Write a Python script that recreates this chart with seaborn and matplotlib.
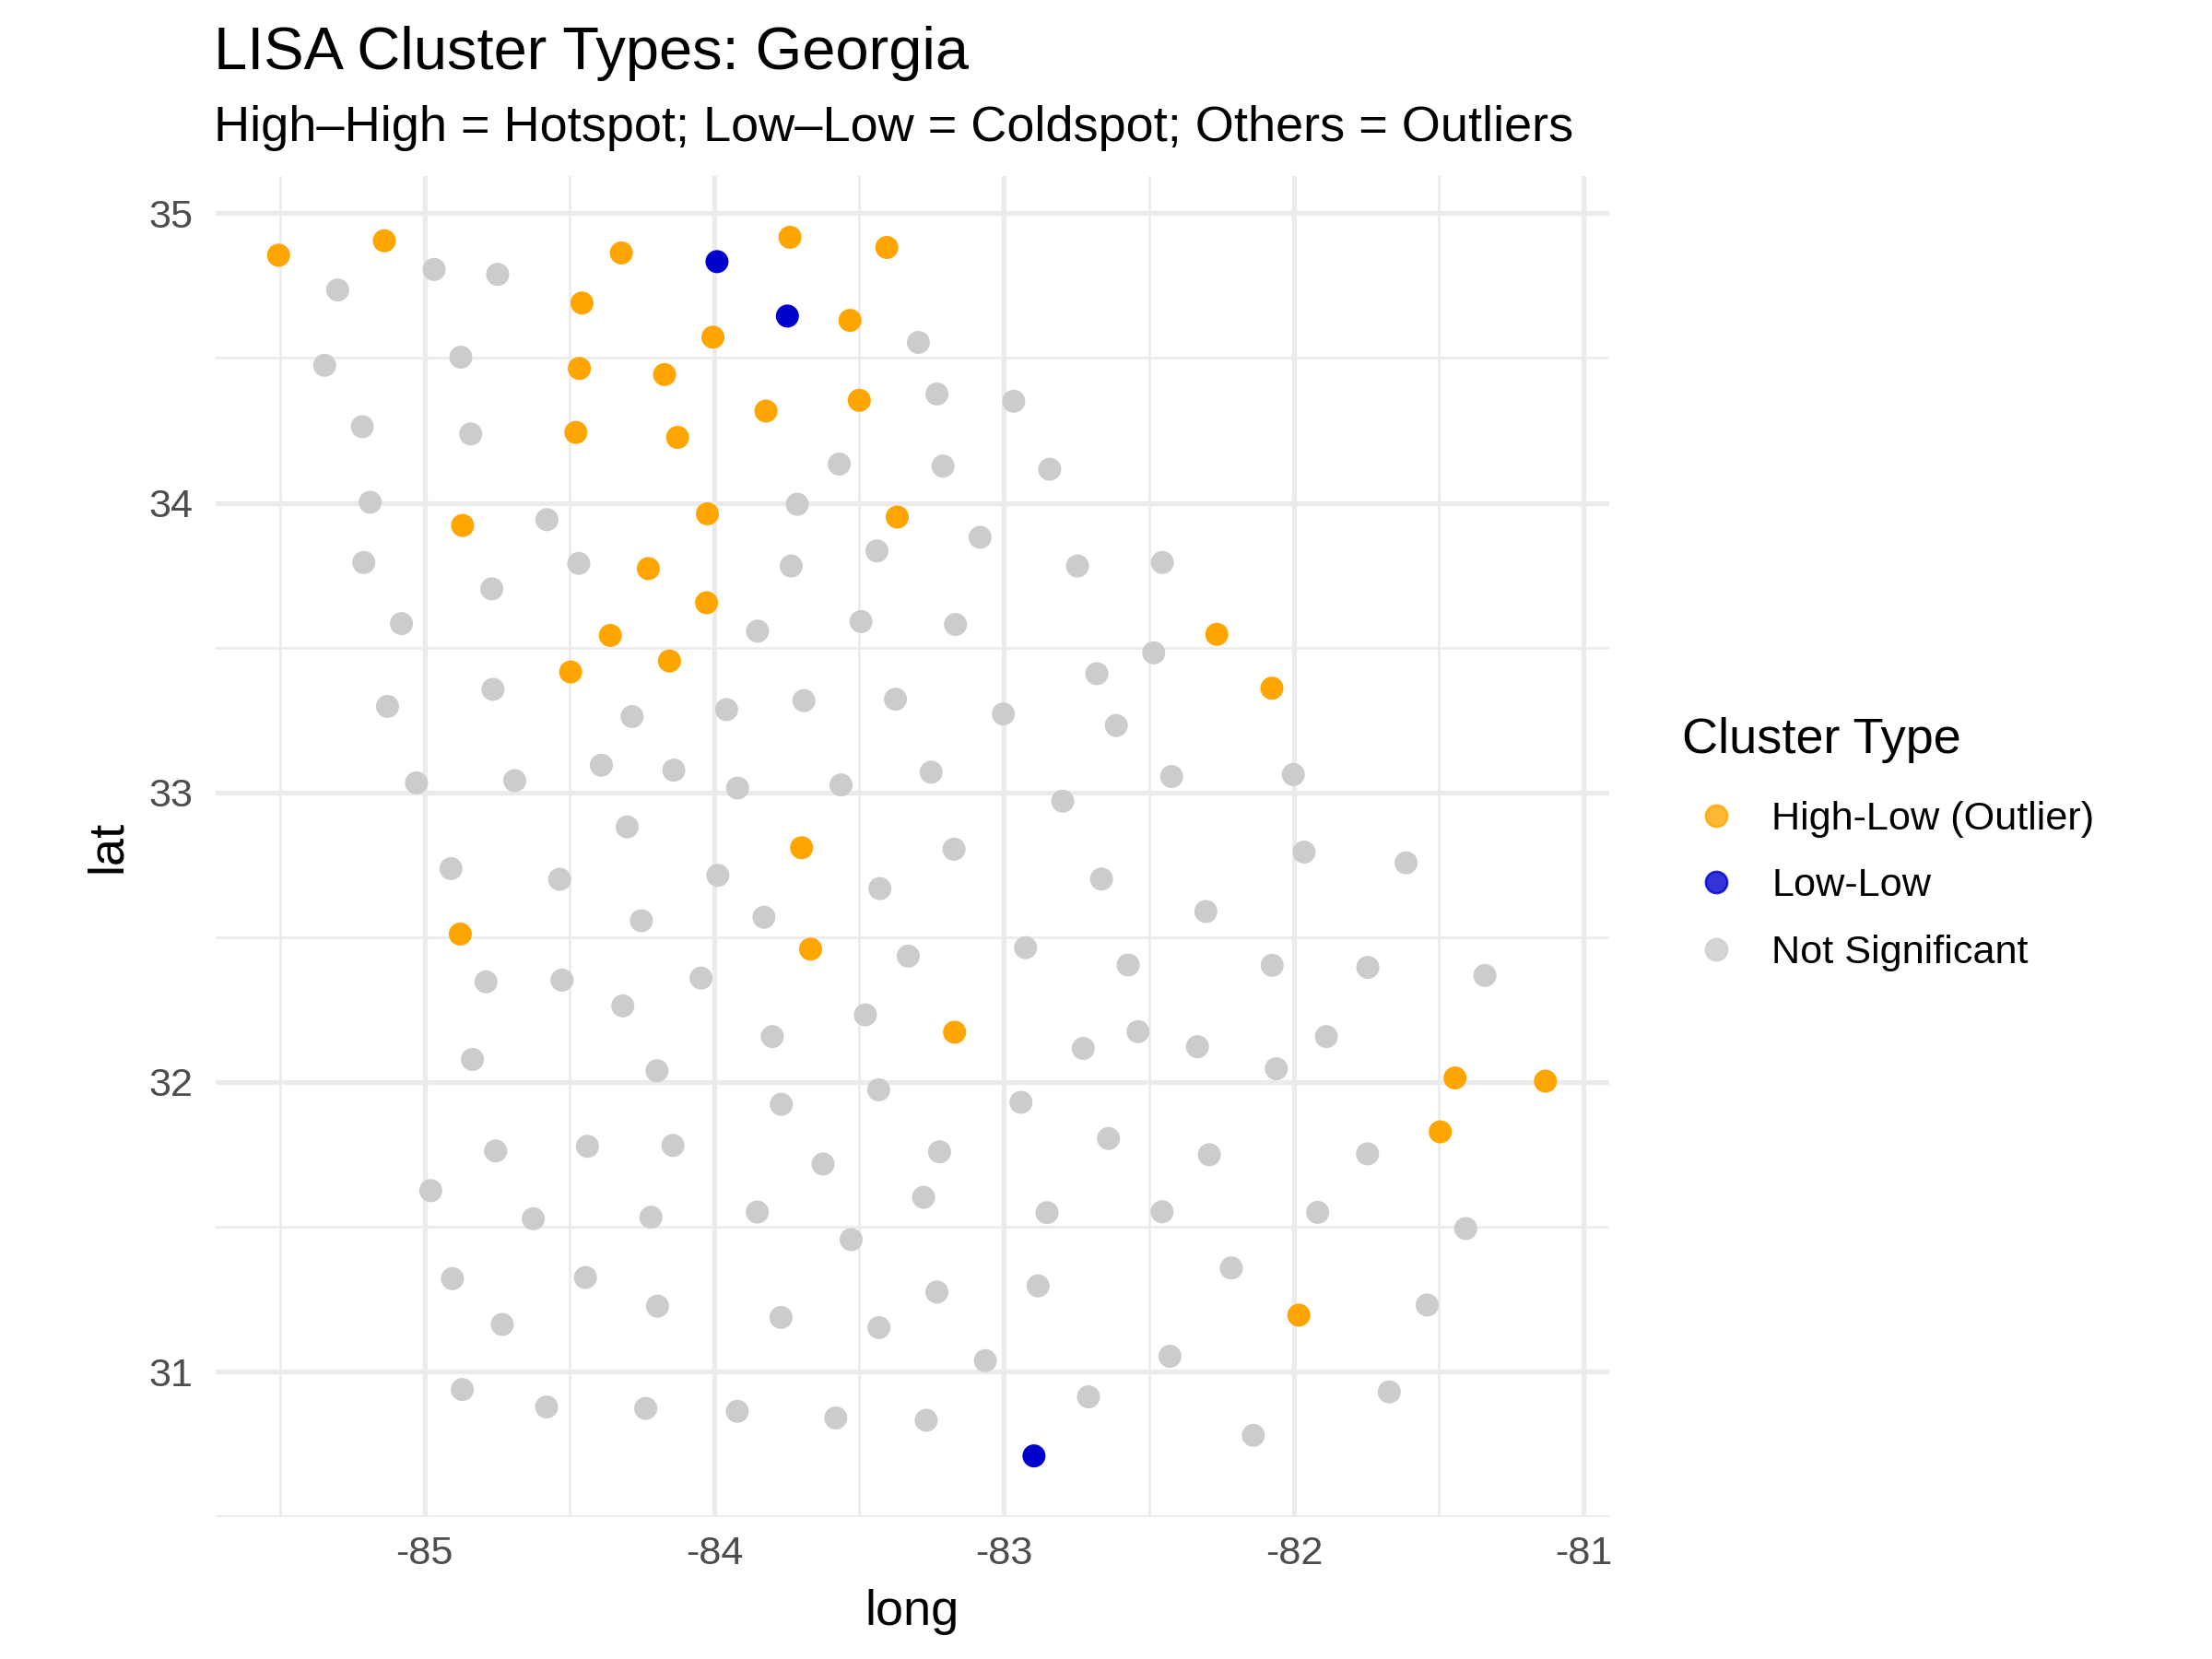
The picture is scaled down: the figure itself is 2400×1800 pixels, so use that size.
"""LISA cluster types for Georgia counties, drawn at county centroids."""

import matplotlib

matplotlib.use("Agg")
import matplotlib.pyplot as plt
import pandas as pd
import seaborn as sns
from matplotlib.lines import Line2D
from matplotlib.ticker import MultipleLocator

# centroids, grouped by LISA cluster
high_low_long = [
    -85.504, -85.139, -84.321, -83.739, -83.405, -84.457, -84.005, -83.532,
    -84.466, -84.172, -83.822, -83.500, -84.478, -84.127, -84.024, -83.369,
    -84.869, -84.228, -84.027, -84.359, -84.155, -84.496, -82.266, -82.076,
    -83.699, -84.877, -83.668, -83.171, -81.444, -81.132, -81.495, -81.983,
]
high_low_lat = [
    34.855, 34.905, 34.863, 34.917, 34.882, 34.690, 34.572, 34.630,
    34.464, 34.443, 34.317, 34.354, 34.243, 34.226, 33.962, 33.951,
    33.922, 33.773, 33.655, 33.542, 33.454, 33.416, 33.546, 33.360,
    32.809, 32.511, 32.459, 32.172, 32.014, 32.003, 31.828, 31.195,
]

low_low_long = [-83.991, -83.748, -82.897]
low_low_lat = [34.833, 34.645, 30.709]

not_sig_long = [
    -84.967, -84.748, -85.300, -85.345, -84.875, -85.215, -84.841, -85.188,
    -84.578, -85.210, -84.468, -84.768, -85.080, -85.128, -84.764, -84.284,
    -85.028, -84.689, -84.390, -84.140, -84.301, -83.296, -83.232, -82.967,
    -83.569, -83.211, -82.843, -83.714, -83.439, -83.083, -83.735, -82.747,
    -82.454, -83.851, -83.494, -83.168, -82.484, -82.680, -83.958, -83.691,
    -83.375, -83.003, -82.613, -83.920, -83.563, -83.252, -82.798, -82.422,
    -83.173, -82.002, -81.965, -81.613, -84.909, -84.534, -84.252, -84.788,
    -84.526, -84.316, -84.046, -84.835, -84.198, -84.755, -84.438, -84.143,
    -84.979, -84.625, -84.219, -84.904, -84.445, -84.732, -84.196, -84.870,
    -84.579, -84.237, -83.988, -83.429, -82.664, -83.829, -83.331, -82.926,
    -82.572, -83.479, -83.800, -82.727, -82.538, -83.433, -83.769, -82.942,
    -82.640, -83.625, -83.223, -83.852, -83.278, -82.852, -82.455, -83.528,
    -83.232, -82.883, -83.770, -83.432, -83.065, -82.428, -82.709, -83.921,
    -83.581, -83.269, -82.304, -82.075, -81.745, -81.341, -82.333, -81.888,
    -82.061, -82.292, -81.746, -81.918, -81.407, -82.216, -81.540, -81.671,
    -82.140,
]
not_sig_lat = [
    34.806, 34.789, 34.735, 34.475, 34.503, 34.263, 34.238, 34.002,
    33.942, 33.794, 33.791, 33.703, 33.583, 33.297, 33.356, 33.262,
    33.033, 33.041, 33.094, 33.077, 32.881, 34.554, 34.376, 34.351,
    34.134, 34.127, 34.116, 33.995, 33.834, 33.881, 33.782, 33.782,
    33.794, 33.557, 33.590, 33.580, 33.482, 33.410, 33.286, 33.317,
    33.322, 33.271, 33.231, 33.015, 33.026, 33.070, 32.970, 33.055,
    32.804, 33.062, 32.794, 32.757, 32.737, 32.700, 32.557, 32.346,
    32.352, 32.263, 32.359, 32.078, 32.039, 31.762, 31.778, 31.781,
    31.625, 31.528, 31.533, 31.321, 31.325, 31.163, 31.226, 30.938,
    30.878, 30.873, 32.714, 32.668, 32.701, 32.569, 32.435, 32.464,
    32.404, 32.232, 32.157, 32.116, 32.174, 31.973, 31.923, 31.930,
    31.805, 31.717, 31.759, 31.551, 31.602, 31.549, 31.552, 31.456,
    31.275, 31.296, 31.187, 31.152, 31.038, 31.053, 30.913, 30.863,
    30.840, 30.832, 32.589, 32.403, 32.396, 32.368, 32.122, 32.157,
    32.046, 31.749, 31.752, 31.550, 31.494, 31.358, 31.230, 30.930,
    30.780,
]

cluster_labels = ["High-Low (Outlier)", "Low-Low", "Not Significant"]
cluster_colors = ["#FFA500", "#0000CD", "#CCCCCC"]


def build_frame() -> pd.DataFrame:
    """Stack the three cluster groups into one long table."""
    parts = [
        pd.DataFrame({"long": high_low_long, "lat": high_low_lat, "cluster": cluster_labels[0]}),
        pd.DataFrame({"long": low_low_long, "lat": low_low_lat, "cluster": cluster_labels[1]}),
        pd.DataFrame({"long": not_sig_long, "lat": not_sig_lat, "cluster": cluster_labels[2]}),
    ]
    return pd.concat(parts, ignore_index=True)


def padded(values, frac=0.05):
    lo, hi = min(values), max(values)
    pad = (hi - lo) * frac
    return lo - pad, hi + pad


def main() -> None:
    data = build_frame()

    sns.set_theme(style="white")
    plt.rcParams["font.family"] = ["Liberation Sans", "DejaVu Sans"]
    plt.rcParams["axes.unicode_minus"] = False
    plt.rcParams["text.color"] = "black"
    plt.rcParams["axes.labelcolor"] = "black"

    fig = plt.figure(figsize=(8, 6), dpi=300)
    ax = fig.add_axes([0.0973, 0.0857, 0.630, 0.808])

    # not significant first so the coloured clusters sit on top
    order = [cluster_labels[2], cluster_labels[0], cluster_labels[1]]
    palette = dict(zip(cluster_labels, cluster_colors))
    sns.scatterplot(
        data=data,
        x="long",
        y="lat",
        hue="cluster",
        hue_order=order,
        palette=palette,
        s=36,
        linewidth=0,
        alpha=1.0,
        legend=False,
        ax=ax,
        zorder=3,
    )

    ax.set_xlim(*padded(data["long"]))
    ax.set_ylim(*padded(data["lat"]))
    ax.xaxis.set_major_locator(MultipleLocator(1))
    ax.yaxis.set_major_locator(MultipleLocator(1))
    ax.xaxis.set_minor_locator(MultipleLocator(0.5))
    ax.yaxis.set_minor_locator(MultipleLocator(0.5))
    ax.grid(which="major", color="#EBEBEB", linewidth=1.26)
    ax.grid(which="minor", color="#EBEBEB", linewidth=0.63)
    ax.set_axisbelow(True)
    for spine in ax.spines.values():
        spine.set_visible(False)

    ax.tick_params(which="both", length=0, labelsize=10.4, labelcolor="#4D4D4D")
    ax.tick_params(axis="x", pad=4.8)
    ax.tick_params(axis="y", pad=5.8)

    ax.set_xlabel("long", fontsize=13, color="black", va="baseline")
    ax.xaxis.set_label_coords(0.5, -0.0806)
    ax.set_ylabel("lat", fontsize=13, color="black", va="center")
    ax.yaxis.set_label_coords(-0.0771, 0.5)

    fig.text(0.0968, 1 - 75 / 1800, "LISA Cluster Types: Georgia",
             fontsize=15.6, va="baseline", ha="left", color="black")
    fig.text(0.0968, 1 - 153 / 1800,
             "High\u2013High = Hotspot; Low\u2013Low = Coldspot; Others = Outliers",
             fontsize=13, va="baseline", ha="left", color="black")

    # legend: title placed on its own so the gap to the keys matches
    fig.text(0.7605, 1 - 817 / 1800, "Cluster Type", fontsize=13,
             va="baseline", ha="left", color="black")
    handles = [
        Line2D([], [], marker="o", linestyle="", markersize=5.6,
               markerfacecolor=c, markeredgecolor=c, markeredgewidth=0.6, alpha=0.8)
        for c in cluster_colors
    ]
    fig.legend(
        handles,
        cluster_labels,
        loc="center left",
        bbox_to_anchor=(0.7613, 1 - 961.2 / 1800),
        bbox_transform=fig.transFigure,
        frameon=False,
        borderpad=0,
        borderaxespad=0,
        fontsize=10.4,
        labelcolor="black",
        handlelength=1.6,
        handletextpad=0.59,
        labelspacing=0.75,
    )

    fig.savefig("out.png", dpi=300, facecolor="white")
    plt.close(fig)


if __name__ == "__main__":
    main()
